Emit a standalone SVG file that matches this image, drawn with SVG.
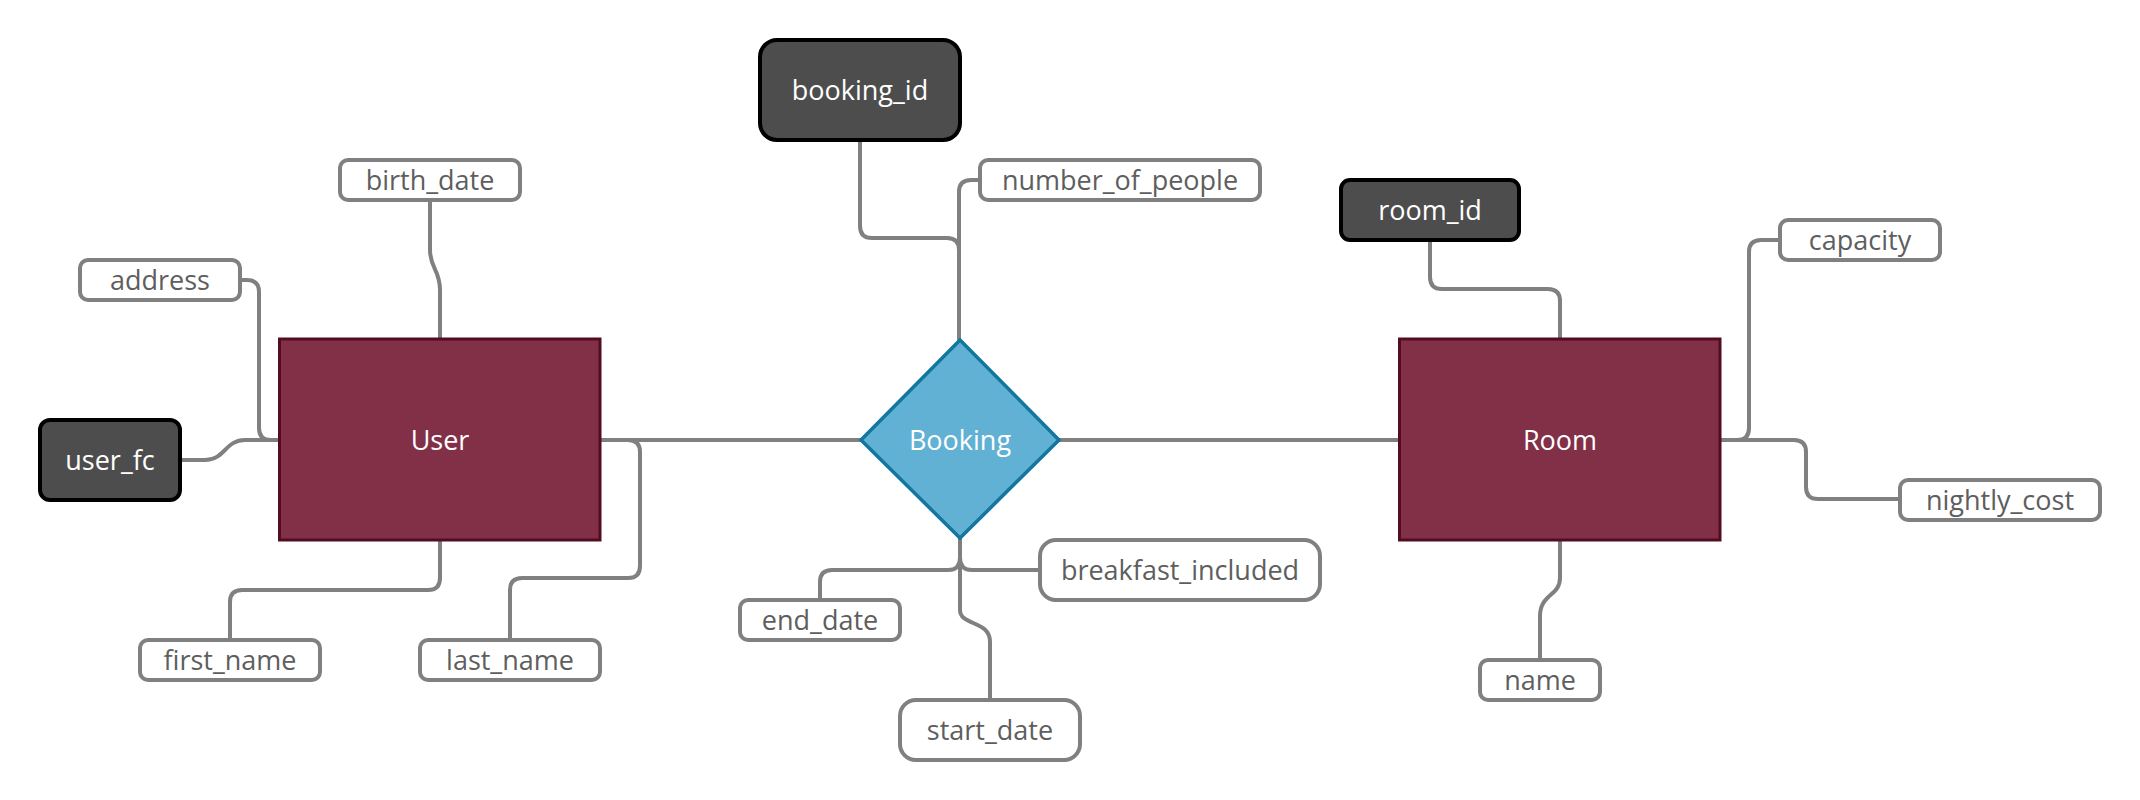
<svg xmlns="http://www.w3.org/2000/svg" width="2140" height="800" viewBox="0 0 2140 800">
<style>
  .conn path { fill: none; stroke: #808080; stroke-width: 4; }
  .attr rect { fill: #ffffff; stroke: #808080; stroke-width: 4; }
  .attr text { fill: #5e5e5e; }
  .key rect { fill: #4d4d4d; stroke: #000000; stroke-width: 4; }
  .key text, .ent text, .rel text { fill: #ffffff; }
  .ent rect { fill: #822f48; stroke: #520c24; stroke-width: 3; }
  .rel polygon { fill: #61b1d5; stroke: #12769e; stroke-width: 3.5; }
  text { font-family: "Open Sans", "Noto Sans", sans-serif; font-size: 27px; text-anchor: middle; }
</style>
<rect width="2140" height="800" fill="#ffffff"/>
<g class="conn" id="connectors">
  <path d="M430,201 V250 C430,268 440,270 440,290 V339"/>
  <path d="M240,280 H247 Q259,280 259,292 V428 Q259,440 271,440 H280"/>
  <path d="M181,460 H205 C225,460 225,440 245,440 H280"/>
  <path d="M440,540 V578 Q440,590 428,590 H242 Q230,590 230,602 V639"/>
  <path d="M600,440 H628 Q640,440 640,452 V566 Q640,578 628,578 H522 Q510,578 510,590 V639"/>
  <path d="M600,440 H861"/>
  <path d="M1059,440 H1399"/>
  <path d="M860,140 V226 Q860,238 872,238 H947 Q959,238 959,250 V340"/>
  <path d="M979,180 H971 Q959,180 959,192 V340"/>
  <path d="M960,538 V558 Q960,570 948,570 H832 Q820,570 820,582 V599"/>
  <path d="M960,538 V558 Q960,570 972,570 H1039"/>
  <path d="M960,538 V610 C960,626 990,620 990,642 V699"/>
  <path d="M1430,241 V277 Q1430,289 1442,289 H1548 Q1560,289 1560,301 V339"/>
  <path d="M1779,240 H1761 Q1749,240 1749,252 V428 Q1749,440 1737,440 H1720"/>
  <path d="M1720,440 H1794 Q1806,440 1806,452 V487 Q1806,499 1818,499 H1900"/>
  <path d="M1560,540 V578 C1560,596 1540,594 1540,616 V659"/>
</g>
<g class="ent" id="user"><rect x="279.5" y="339" width="320.5" height="201"/><text x="440" y="450">User</text></g>
<g class="ent" id="room"><rect x="1399.5" y="339" width="320.5" height="201"/><text x="1560" y="450">Room</text></g>
<g class="rel" id="booking"><polygon points="960,340 1059,440 960,538 861,440"/><text x="960" y="450">Booking</text></g>
<g class="key" id="user_fc"><rect x="40" y="420" width="140" height="80" rx="10"/><text x="110" y="470">user_fc</text></g>
<g class="key" id="booking_id"><rect x="760" y="40" width="200" height="100" rx="17"/><text x="860" y="100">booking_id</text></g>
<g class="key" id="room_id"><rect x="1341" y="180" width="178" height="60" rx="9"/><text x="1430" y="220">room_id</text></g>
<g class="attr" id="birth_date"><rect x="340" y="160" width="180" height="40" rx="8"/><text x="430" y="190">birth_date</text></g>
<g class="attr" id="address"><rect x="80" y="260" width="160" height="40" rx="8"/><text x="160" y="290">address</text></g>
<g class="attr" id="first_name"><rect x="140" y="640" width="180" height="40" rx="8"/><text x="230" y="670">first_name</text></g>
<g class="attr" id="last_name"><rect x="420" y="640" width="180" height="40" rx="8"/><text x="510" y="670">last_name</text></g>
<g class="attr" id="number_of_people"><rect x="980" y="160" width="280" height="40" rx="8"/><text x="1120" y="190">number_of_people</text></g>
<g class="attr" id="end_date"><rect x="740" y="600" width="160" height="40" rx="8"/><text x="820" y="630">end_date</text></g>
<g class="attr" id="breakfast_included"><rect x="1040" y="540" width="280" height="60" rx="16"/><text x="1180" y="580">breakfast_included</text></g>
<g class="attr" id="start_date"><rect x="900" y="700" width="180" height="60" rx="16"/><text x="990" y="740">start_date</text></g>
<g class="attr" id="capacity"><rect x="1780" y="220" width="160" height="40" rx="8"/><text x="1860" y="250">capacity</text></g>
<g class="attr" id="nightly_cost"><rect x="1900" y="480" width="200" height="40" rx="8"/><text x="2000" y="510">nightly_cost</text></g>
<g class="attr" id="name"><rect x="1480" y="660" width="120" height="40" rx="8"/><text x="1540" y="690">name</text></g>
</svg>
